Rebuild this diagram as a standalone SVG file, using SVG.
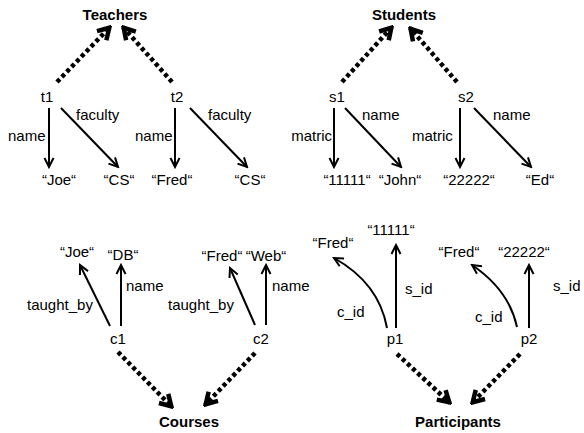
<svg xmlns="http://www.w3.org/2000/svg" width="584" height="433" viewBox="0 0 584 433">
<defs>
<style>
text{font-family:"Liberation Sans",Arial,sans-serif;font-size:15px;fill:#000}
.b{font-weight:bold}
.m{text-anchor:middle}
.e{text-anchor:end}
.s{stroke:#000;stroke-width:2;fill:none;marker-end:url(#ah)}
.d{stroke:#000;stroke-width:4.5;fill:none;stroke-dasharray:4 3;marker-end:url(#dh)}
</style>
<marker id="ah" viewBox="0 0 12 12" refX="10" refY="6" markerWidth="12" markerHeight="12" markerUnits="userSpaceOnUse" orient="auto">
<path d="M1,1.5 L10,6 L1,10.5" fill="none" stroke="#000" stroke-width="2"/>
</marker>
<marker id="dh" viewBox="0 0 16 18" refX="14" refY="9" markerWidth="16" markerHeight="18" markerUnits="userSpaceOnUse" orient="auto">
<path d="M2,2.5 L13,9 L2,15.5" fill="none" stroke="#000" stroke-width="4.5" stroke-linejoin="miter"/>
</marker>
</defs>
<rect width="584" height="433" fill="#fff"/>
<g id="connectors">
<path class="d" d="M57,82 L110,27"/>
<path class="d" d="M172,82 L123,27"/>
<path class="s" d="M49,108 L49,167"/>
<path class="s" d="M61,108 L118,167"/>
<path class="s" d="M175,108 L175,167"/>
<path class="s" d="M190,108 L247,167"/>
<path class="d" d="M342,82 L392,27"/>
<path class="d" d="M457,82 L410,28"/>
<path class="s" d="M334,108 L334,167"/>
<path class="s" d="M345,108 L401,167"/>
<path class="s" d="M460,108 L460,167"/>
<path class="s" d="M474,108 L531,167"/>
<path class="s" d="M110,326 L80,265"/>
<path class="s" d="M121,326 L121,265"/>
<path class="s" d="M255,325 L230,268"/>
<path class="s" d="M266,325 L266,265"/>
<path class="d" d="M118,352 L172,407"/>
<path class="d" d="M255,353 L205,405"/>
<path class="s" d="M396,328 L396,245"/>
<path class="s" d="M387,328 Q379,283 334,258"/>
<path class="s" d="M529,328 L529,265"/>
<path class="s" d="M517,327 Q509,290 472,265"/>
<path class="d" d="M397,354 L450,403"/>
<path class="d" d="M520,354 L472,403"/>
<text x="8" y="141">name</text>
<text x="76" y="120">faculty</text>
<text x="135" y="141">name</text>
<text x="208" y="120">faculty</text>
<text class="e" x="332" y="141">matric</text>
<text x="362" y="120">name</text>
<text x="412" y="141">matric</text>
<text x="493" y="120">name</text>
<text x="27" y="310">taught_by</text>
<text x="126" y="291">name</text>
<text x="168" y="310">taught_by</text>
<text x="272" y="291">name</text>
<text x="337" y="317">c_id</text>
<text x="405" y="294">s_id</text>
<text x="475" y="322">c_id</text>
<text x="553" y="291">s_id</text>
</g>
<g id="Teachers"><text class="b m" x="115" y="20">Teachers</text></g>
<g id="t1"><text class="m" x="47" y="102">t1</text></g>
<g id="t2"><text class="m" x="177" y="102">t2</text></g>
<g id="t1_name"><text class="m" x="59" y="185">“Joe“</text></g>
<g id="t1_faculty"><text class="m" x="119" y="185">“CS“</text></g>
<g id="t2_name"><text class="m" x="172" y="185">“Fred“</text></g>
<g id="t2_faculty"><text class="m" x="250" y="185">“CS“</text></g>
<g id="Students"><text class="b m" x="404" y="20">Students</text></g>
<g id="s1"><text class="m" x="337" y="102">s1</text></g>
<g id="s2"><text class="m" x="466" y="102">s2</text></g>
<g id="s1_matric"><text class="m" x="347" y="185">“11111“</text></g>
<g id="s1_name"><text class="m" x="400" y="185">“John“</text></g>
<g id="s2_matric"><text class="m" x="469" y="185">“22222“</text></g>
<g id="s2_name"><text class="m" x="540" y="185">“Ed“</text></g>
<g id="c1_taught"><text class="m" x="77" y="257">“Joe“</text></g>
<g id="c1_name"><text class="m" x="123" y="260">“DB“</text></g>
<g id="c2_taught"><text class="m" x="222" y="261">“Fred“</text></g>
<g id="c2_name"><text class="m" x="266" y="261">“Web“</text></g>
<g id="c1"><text class="m" x="118" y="344">c1</text></g>
<g id="c2"><text class="m" x="261" y="344">c2</text></g>
<g id="Courses"><text class="b m" x="189" y="427">Courses</text></g>
<g id="p1_sid"><text class="m" x="391" y="235">“11111“</text></g>
<g id="p1_cid"><text class="m" x="333" y="248">“Fred“</text></g>
<g id="p2_cid"><text class="m" x="459" y="257">“Fred“</text></g>
<g id="p2_sid"><text class="m" x="524" y="257">“22222“</text></g>
<g id="p1"><text class="m" x="395" y="344">p1</text></g>
<g id="p2"><text class="m" x="529" y="344">p2</text></g>
<g id="Participants"><text class="b m" x="458" y="427">Participants</text></g>
</svg>
